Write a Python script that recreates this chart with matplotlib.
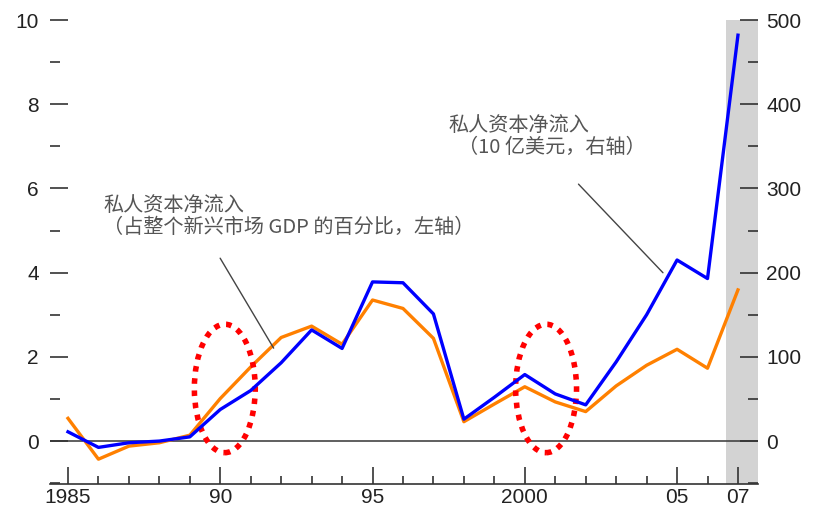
import matplotlib.pyplot as plt
from matplotlib.patches import Ellipse
from matplotlib.ticker import MultipleLocator

plt.rcParams['font.family'] = ['Liberation Sans', 'Noto Sans CJK SC', 'DejaVu Sans']

# 年份与数据
years = list(range(1985, 2008))
# 私人资本净流入（占新兴市场GDP的百分比，左轴）
pct_gdp = [0.54, -0.43, -0.12, -0.04, 0.14, 1.01, 1.76, 2.46, 2.73, 2.30, 3.35, 3.15,
           2.44, 0.46, 0.88, 1.29, 0.93, 0.70, 1.31, 1.80, 2.18, 1.73, 3.59]
# 私人资本净流入（10亿美元，右轴）
usd_bn = [11, -7.5, -2, 0, 5, 37.5, 60, 93, 132, 110, 189, 188,
          151, 26, 52, 79, 56, 43, 94, 150, 215, 193, 482]

xticks = [1985, 1990, 1995, 2000, 2005, 2007]
xlabels = ['1985', '90', '95', '2000', '05', '07']

fig = plt.figure(figsize=(8.16, 5.08), dpi=100)
ax = fig.add_axes([0.0613, 0.0472, 0.8677, 0.9134])
ax2 = ax.twinx()

ax.set_xlim(1984.41, 2007.66)
ax.set_ylim(-1.02, 10)
ax2.set_ylim(-51, 500)

# 阴影区（预测）
ax.axvspan(2006.62, 2007.66, color='#d3d3d3', zorder=0, lw=0)
ax.axhline(0, color='#444444', lw=1.2, zorder=1)

ax.plot(years, pct_gdp, color='#ff8000', lw=2.4, zorder=3)
ax2.plot(years, usd_bn, color='#0000ff', lw=2.4, zorder=4)

for a in (ax, ax2):
    for s in ('top', 'left', 'right'):
        a.spines[s].set_visible(False)
ax2.spines['bottom'].set_visible(False)
ax.spines['bottom'].set_color('#333333')
ax.spines['bottom'].set_linewidth(1.2)

ax.yaxis.set_minor_locator(MultipleLocator(1))
ax2.yaxis.set_minor_locator(MultipleLocator(50))
ax.set_yticks([0, 2, 4, 6, 8, 10])
ax2.set_yticks([0, 100, 200, 300, 400, 500])

ax.tick_params(axis='y', direction='in', length=13, width=1.2, color='#333333',
               labelsize=15, labelcolor='#222222', pad=8)
ax.tick_params(axis='y', which='minor', direction='in', length=7, width=1.2, color='#333333')
ax2.tick_params(axis='y', direction='in', length=13, width=1.2, color='#333333',
                labelsize=15, labelcolor='#222222', pad=6)
ax2.tick_params(axis='y', which='minor', direction='in', length=7, width=1.2, color='#333333')

ax.set_xticks(xticks)
ax.set_xticklabels(xlabels)
ax.set_xticks(years, minor=True)
ax.tick_params(axis='x', direction='in', length=12, width=1.2, color='#333333',
               labelsize=15, labelcolor='#222222', pad=3)
ax.tick_params(axis='x', which='minor', direction='in', length=6, width=1.2, color='#333333')

# 注释文字
cjk = ['Noto Sans CJK SC', 'DejaVu Sans']
ax.text(1986.15, 5.85, '私人资本净流入\n（占整个新兴市场 GDP 的百分比，左轴）',
        fontsize=14.5, color='#555555', family=cjk, linespacing=1.1, va='top')
ax.annotate('', xy=(1991.8, 2.15), xytext=(1989.95, 4.4),
            arrowprops=dict(arrowstyle='-', color='#444444', lw=1))
ax.text(1997.5, 7.75, '私人资本净流入\n  （10 亿美元，右轴）',
        fontsize=14.5, color='#555555', family=cjk, linespacing=1.1, va='top')
ax.annotate('', xy=(2004.6, 3.95), xytext=(2001.7, 6.15),
            arrowprops=dict(arrowstyle='-', color='#444444', lw=1))

# 红色虚线椭圆
for cx in (1990.15, 2000.7):
    ax.add_patch(Ellipse((cx, 1.25), width=2.0, height=3.05, fill=False,
                         edgecolor='#ff0000', lw=4, linestyle=(0, (1, 1.2)), zorder=6))

fig.savefig('out.png', dpi=100)
